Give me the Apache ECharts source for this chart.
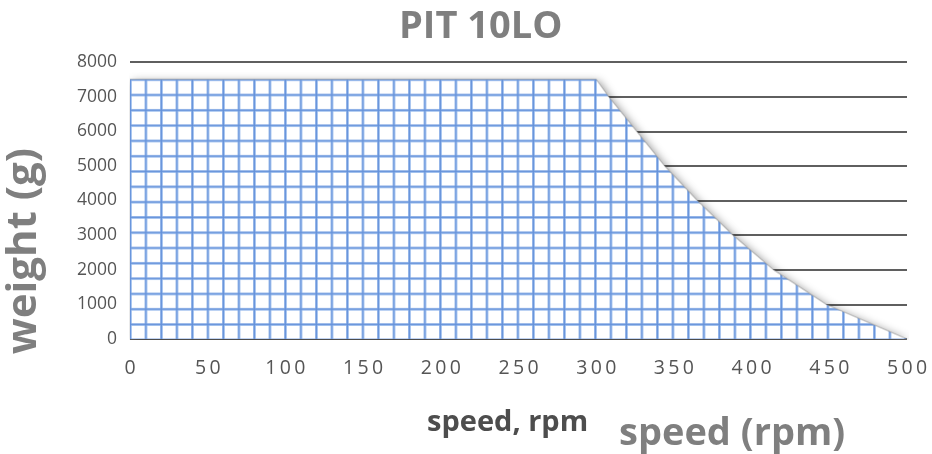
<!DOCTYPE html>
<html>
<head>
<meta charset="utf-8">
<script src="https://cdn.jsdelivr.net/npm/echarts@6/dist/echarts.min.js"></script>
<style>
html,body{margin:0;padding:0;background:#fff;}
#chart{width:932px;height:454px;}
</style>
</head>
<body>
<div id="chart"></div>
<script>
// ---- data ----
const speedRpm = [0, 300, 308, 326, 344, 365, 388, 414, 448, 500];
const weightG = [7500, 7500, 7000, 6000, 5000, 4000, 3000, 2000, 1000, 0];
const xTicks = [0, 50, 100, 150, 200, 250, 300, 350, 400, 450, 500];
const yTicks = [0, 1000, 2000, 3000, 4000, 5000, 6000, 7000, 8000];
const chartTitle = 'PIT 10LO';
const xName1 = 'speed, rpm';
const xName2 = 'speed (rpm)';
const yName = 'weight (g)';

// ---- graph-paper pattern ----
function makeCell() {
  const c = document.createElement('canvas');
  c.width = 16; c.height = 16;
  const g = c.getContext('2d');
  g.fillStyle = '#ffffff';
  g.fillRect(0, 0, 16, 16);
  g.fillStyle = 'rgba(160,192,238,0.85)';
  g.fillRect(0, 0, 3, 16);
  g.fillRect(0, 0, 16, 3);
  g.fillStyle = 'rgba(100,145,218,0.92)';
  g.fillRect(0.6, 0, 1.5, 16);
  g.fillRect(0, 0.6, 16, 1.5);
  return c;
}
const cell = makeCell();

const chart = echarts.init(document.getElementById('chart'), null, {renderer: 'canvas'});
const FONT = '"Open Sans", "DejaVu Sans", sans-serif';

const pattern = {image: cell, repeat: 'repeat', x: 0, y: 0, scaleX: 15.5 / 16, scaleY: 15.3 / 16};

function spaced(v) {
  return String(v).split('').map(ch => '{d|' + ch + '}').join('');
}

const option = {
  animation: false,
  backgroundColor: '#ffffff',
  grid: {left: 130, right: 25, top: 62, bottom: 115, containLabel: false},
  xAxis: {
    type: 'value', min: xTicks[0], max: xTicks[xTicks.length - 1], interval: 50,
    axisLine: {show: false}, axisTick: {show: false}, splitLine: {show: false},
    axisLabel: {margin: 19, color: '#555', fontSize: 19.5, fontFamily: FONT,
      formatter: v => xTicks.includes(v) ? spaced(v) : '',
      rich: {d: {width: 14.5, align: 'center', color: '#555', fontSize: 19.5, fontFamily: FONT}}}
  },
  yAxis: {
    type: 'value', min: yTicks[0], max: yTicks[yTicks.length - 1], interval: 1000,
    axisLine: {show: false}, axisTick: {show: false},
    splitLine: {show: true, lineStyle: {color: '#2a2a2a', width: 1.6}},
    axisLabel: {margin: 13, color: '#555', fontSize: 17.5, fontFamily: FONT,
      formatter: v => yTicks.includes(v) ? String(v) : ''}
  },
  graphic: [
    {type: 'text', left: 399, top: 8, style: {text: chartTitle, font: 'bold 38px ' + FONT, fill: '#7f7f7f'}},
    {type: 'text', left: 427, top: 408, style: {text: xName1, font: 'bold 29px ' + FONT, fill: '#4d4d4d'}},
    {type: 'text', left: 619, top: 415, style: {text: xName2, font: 'bold 38px ' + FONT, fill: '#7f7f7f'}},
    {type: 'text', left: 3, top: 148, rotation: Math.PI / 2,
      style: {text: yName, font: 'bold 42px ' + FONT, fill: '#7f7f7f'}}
  ],
  series: [{
    type: 'line',
    data: speedRpm.map((s, i) => [s, weightG[i]]),
    symbol: 'none',
    lineStyle: {width: 1.5, color: 'rgba(140,140,140,0.35)'},
    areaStyle: {
      color: pattern, opacity: 1,
      shadowColor: 'rgba(0,0,0,0.4)', shadowBlur: 8, shadowOffsetX: 3, shadowOffsetY: 2
    },
    z: 3
  }]
};
chart.setOption(option);

// align the graph-paper pattern to the plot origin
const origin = chart.convertToPixel({gridIndex: 0}, [0, 0]);
const topPt = chart.convertToPixel({gridIndex: 0}, [0, weightG[0]]);
pattern.x = origin[0] - 1;
pattern.y = topPt[1] - 1;
chart.setOption({series: [{areaStyle: {color: pattern}}]});
</script>
</body>
</html>
